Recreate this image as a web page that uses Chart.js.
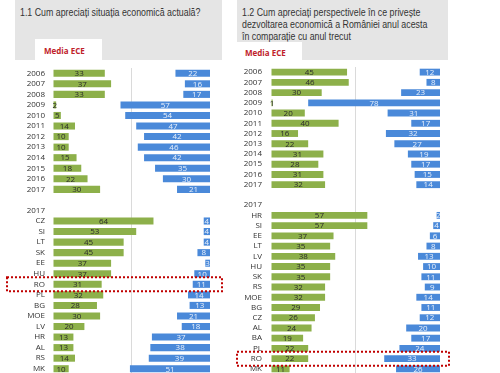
<!DOCTYPE html>
<html>
<head>
<meta charset="utf-8">
<script src="https://cdn.jsdelivr.net/npm/chart.js@4.4.0/dist/chart.umd.min.js"></script>
<style>
  body { margin: 0; width: 500px; height: 373px; overflow: hidden; background: #fff; position: relative; font-family: "Liberation Sans", Arial, sans-serif; }
  .head { position: absolute; top: 0; height: 60px; background: #e5e5e5; }
  .head span { position: absolute; left: 5px; top: 6px; color: #333; font-size: 10.5px; line-height: 12px; white-space: nowrap; transform: scaleX(0.84); transform-origin: 0 0; }
  .tag { position: absolute; background: #fff; color: #c0222a; font: bold 8px "Open Sans", sans-serif; box-sizing: border-box; }
  canvas { position: absolute; }
</style>
</head>
<body>
<div class="head" style="left:15px; width:207px;"><span>1.1 Cum apreciați situația economică actuală?</span></div>
<div class="tag" style="left:35px; top:39px; width:67px; height:22px; padding:6px 0 0 9px;">Media ECE</div>
<div class="head" style="left:237px; width:211px;"><span>1.2 Cum apreciați perspectivele în ce privește<br>dezvoltarea economică a României anul acesta<br>în comparație cu anul trecut</span></div>
<div class="tag" style="left:237px; top:42px; width:65px; height:20px; padding:5px 0 0 8px;">Media ECE</div>

<canvas id="leftChart" width="225" height="314" style="left:0; top:64px;"></canvas>
<canvas id="rightChart" width="275" height="315" style="left:225px; top:63px;"></canvas>

<script>
// years shown in both panels
const years = ['2006', '2007', '2008', '2009', '2010', '2011', '2012', '2013', '2014', '2015', '2016', '2017'];

// 1.1 - current situation
const leftYearGood = [33, 37, 33, 2, 5, 14, 10, 10, 15, 18, 22, 30];
const leftYearBad = [22, 16, 17, 57, 54, 47, 42, 46, 42, 35, 30, 21];
const leftCountries = ['CZ', 'SI', 'LT', 'SK', 'EE', 'HU', 'RO', 'PL', 'BG', 'MOE', 'LV', 'HR', 'AL', 'RS', 'MK'];
const leftCountryGood = [64, 53, 45, 45, 37, 37, 31, 32, 28, 30, 20, 13, 13, 14, 10];
const leftCountryBad = [4, 4, 4, 8, 3, 10, 11, 14, 13, 21, 18, 37, 38, 39, 51];

// 1.2 - perspectives
const rightYearGood = [45, 46, 30, 1, 20, 40, 16, 22, 31, 28, 31, 32];
const rightYearBad = [12, 8, 23, 78, 31, 17, 32, 27, 19, 17, 15, 14];
const rightCountries = ['HR', 'SI', 'EE', 'LT', 'LV', 'HU', 'SK', 'RS', 'MOE', 'BG', 'CZ', 'AL', 'BA', 'PL', 'RO', 'MK'];
const rightCountryGood = [57, 57, 37, 35, 38, 35, 35, 32, 32, 29, 26, 24, 19, 22, 22, 11];
const rightCountryBad = [2, 4, 6, 8, 13, 10, 11, 9, 14, 11, 12, 20, 17, 24, 33, 26];

const green = '#8db04a';
const blue = '#4a89d9';

// draws the numbers inside the bars
const valueLabels = {
    id: 'valueLabels',
    afterDatasetsDraw(chart) {
        const ctx = chart.ctx;
        ctx.save();
        ctx.font = '8px "Open Sans", sans-serif';
        ctx.textAlign = 'center';
        ctx.textBaseline = 'middle';
        chart.data.datasets.forEach((ds, i) => {
            const meta = chart.getDatasetMeta(i);
            ctx.fillStyle = ds.labelColor;
            meta.data.forEach((bar, j) => {
                const v = ds.values[j];
                if (v == null) return;
                ctx.fillText(v, (bar.x + bar.base) / 2, bar.y + 0.5);
            });
        });
        ctx.restore();
    }
};

// red dotted frame around Romania
const markBox = {
    id: 'markBox',
    afterDraw(chart, args, o) {
        const ctx = chart.ctx;
        const y = chart.scales.y.getPixelForValue(o.index);
        ctx.save();
        ctx.strokeStyle = '#c00000';
        ctx.lineWidth = 2;
        ctx.setLineDash([2, 2]);
        ctx.strokeRect(o.x0, y - 7, o.x1 - o.x0, 14);
        ctx.restore();
    }
};

function makeChart(id, countries, yearGood, yearBad, countryGood, countryBad, cfg) {
    const labels = years.concat(['', '2017'], countries);
    const good = yearGood.concat([null, null], countryGood);
    const bad = yearBad.concat([null, null], countryBad);
    const roIndex = years.length + 2 + countries.indexOf('RO');

    return new Chart(document.getElementById(id), {
        type: 'bar',
        data: {
            labels: labels,
            datasets: [{
                data: good.map(v => v == null ? null : [0, v]),
                values: good,
                backgroundColor: green,
                labelColor: '#2a2a2a'
            }, {
                data: bad.map(v => v == null ? null : [100 - v, 100]),
                values: bad,
                backgroundColor: blue,
                labelColor: '#e8f0fb'
            }]
        },
        options: {
            indexAxis: 'y',
            responsive: false,
            animation: false,
            grouped: false,
            barPercentage: 0.67,
            categoryPercentage: 1,
            layout: { padding: { left: 0, right: cfg.padRight, top: 0, bottom: 0 } },
            scales: {
                x: {
                    min: 0,
                    max: 100,
                    ticks: { display: false, stepSize: 50 },
                    grid: {
                        drawTicks: false,
                        color: c => c.tick && c.tick.value === 50 ? '#dadada' : 'rgba(0,0,0,0)'
                    },
                    border: { display: false },
                    afterFit: s => { s.height = 0; }
                },
                y: {
                    // tick length used only as the gap between labels and bars
                    grid: { display: false, drawTicks: true, tickLength: cfg.labelPad },
                    border: { display: false },
                    ticks: {
                        autoSkip: false,
                        color: '#333',
                        padding: 0,
                        font: { family: 'Open Sans', size: 8, lineHeight: 1 }
                    },
                    afterFit: s => { s.width = cfg.axisWidth; }
                }
            },
            plugins: {
                legend: { display: false },
                tooltip: { enabled: false },
                markBox: { index: roIndex, x0: cfg.boxX0, x1: cfg.boxX1 }
            }
        },
        plugins: [valueLabels, markBox]
    });
}

makeChart('leftChart', leftCountries, leftYearGood, leftYearBad, leftCountryGood, leftCountryBad,
    { axisWidth: 53, padRight: 15, labelPad: 8, boxX0: 7, boxX1: 222 });
makeChart('rightChart', rightCountries, rightYearGood, rightYearBad, rightCountryGood, rightCountryBad,
    { axisWidth: 46, padRight: 60, labelPad: 9, boxX0: 12, boxX1: 224 });
</script>
</body>
</html>
